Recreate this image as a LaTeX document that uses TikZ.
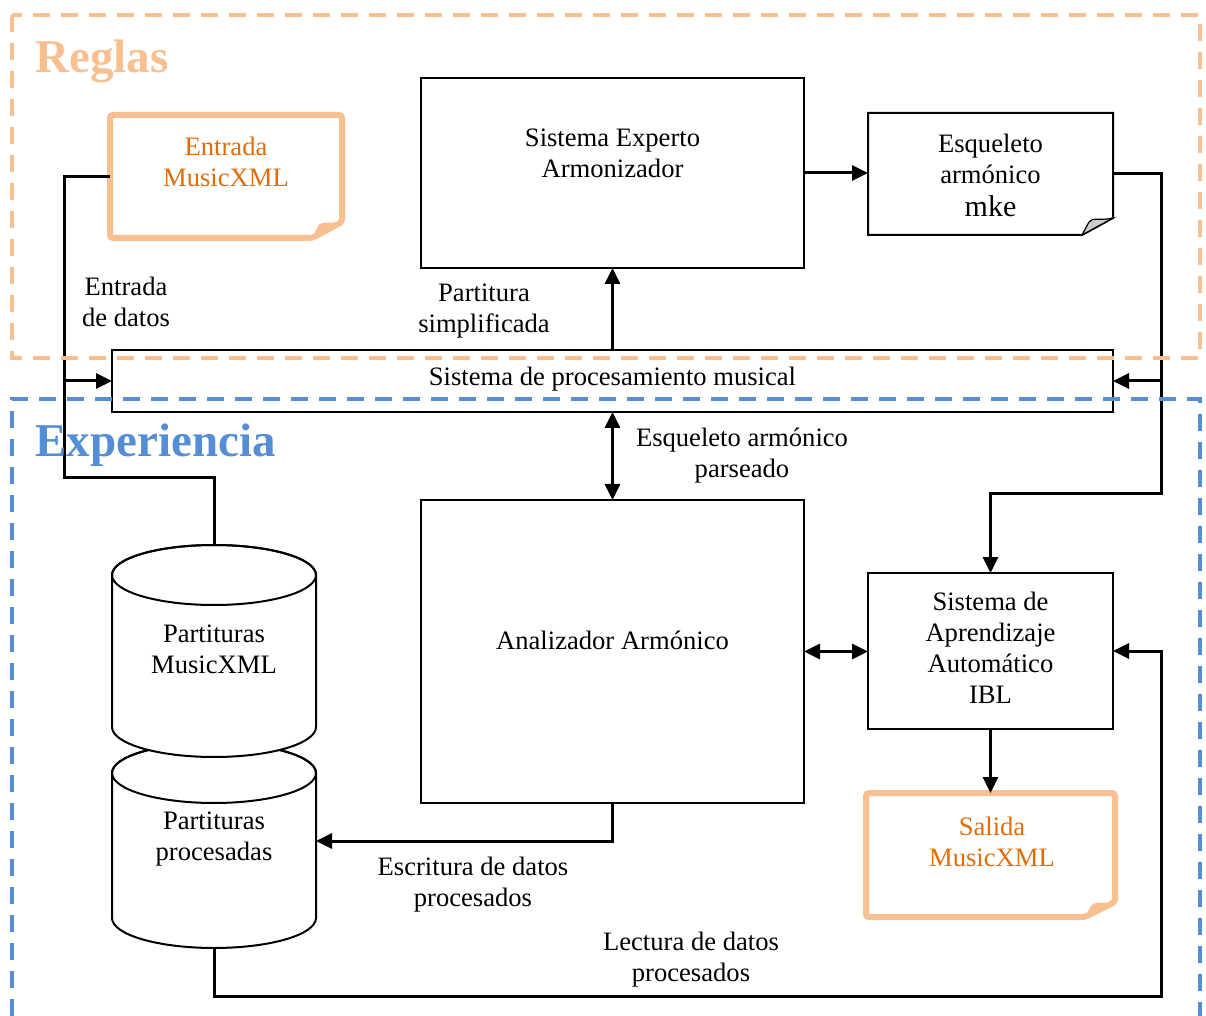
\documentclass[tikz,border=0pt]{standalone}
\usepackage{fontspec}
\setmainfont{Liberation Serif}
\usetikzlibrary{arrows.meta}
\definecolor{reglas}{HTML}{F8C090}
\definecolor{reglastxt}{HTML}{E36C0A}
\definecolor{experiencia}{HTML}{558ED5}
\begin{document}
\begin{tikzpicture}[x=0.5pt,y=-0.5pt,
  txt/.style={font=\fontsize{13.3}{15.5}\selectfont, align=center, inner sep=0pt},
  box/.style={draw, line width=1pt, fill=white, inner sep=0pt, outer sep=0pt},
  area/.style={inner sep=0pt, outer sep=0pt},
  conn/.style={line width=1.5pt},
  arr/.style={conn, -{Triangle[length=8pt,width=7.5pt]}},
  arrtwo/.style={conn, {Triangle[length=8pt,width=7.5pt]}-{Triangle[length=8pt,width=7.5pt]}},
  region/.style={line width=1.6pt, dash pattern=on 8.5pt off 5.5pt},
  header/.style={font=\fontsize{23.5}{28}\selectfont\bfseries, anchor=west, inner sep=0pt}]
\useasboundingbox (0,0) rectangle (1206,1016);

% ---- boxes ----
\node[box, minimum width=191.5pt, minimum height=95pt] (experto) at (612.5,173) {};
\node[txt] (expertot) at (612.5,153) {Sistema Experto\\Armonizador};

\node[box, minimum width=500.5pt, minimum height=31pt] (proc) at (612.5,381) {};
\node[txt] (proct) at (612.5,379) {Sistema de procesamiento musical};

\node[box, minimum width=191.5pt, minimum height=151.5pt] (anal) at (612.5,651.5) {};
\node[txt] (analt) at (612.5,640) {Analizador Armónico};

\node[box, minimum width=122.5pt, minimum height=78pt] (ibl) at (990.5,651) {};
\node[txt] (iblt) at (990.5,647.5) {Sistema de\\Aprendizaje\\Automático\\IBL};

% ---- document shapes ----
\node[area, minimum width=122.5pt, minimum height=61pt] (mke) at (990.5,174) {};
\draw[line width=1pt, fill=white] (868,113) -- (1113,113) -- (1113,218) -- (1082,235) -- (868,235) -- cycle;
\filldraw[line width=0.6pt, fill=gray!40] (1082,235) -- (1113,218) .. controls (1101,221) and (1092,217) .. (1089,222) -- cycle;
\node[txt] (mket) at (990.5,175) {Esqueleto\\armónico\\[1pt]{\fontsize{15}{16}\selectfont mke}};

\node[area, minimum width=116pt, minimum height=61.5pt] (entrada) at (226,176.5) {};
\draw[reglas, line width=3pt, rounded corners=1.5pt, fill=white] (110,115) -- (342,115) -- (342,222) -- (312,238) -- (110,238) -- cycle;
\fill[reglas] (312,238) -- (342,222) .. controls (333,224) and (322,220) .. (318,226) -- cycle;
\node[txt, text=reglastxt] (entradat) at (226,162) {Entrada\\MusicXML};

\node[area, minimum width=124.5pt, minimum height=62pt] (salida) at (990.5,855) {};
\draw[reglas, line width=3pt, rounded corners=1.5pt, fill=white] (866,793) -- (1115,793) -- (1115,902) -- (1085,917) -- (866,917) -- cycle;
\fill[reglas] (1085,917) -- (1115,902) .. controls (1106,904) and (1095,900) .. (1091,906) -- cycle;
\node[txt, text=reglastxt] (salidat) at (992,842) {Salida\\MusicXML};

% ---- databases ----
\filldraw[line width=1pt, fill=white] (112,773) -- (112,918)
  arc[start angle=180, end angle=360, x radius=51pt, y radius=15pt] -- (316,773)
  arc[start angle=0, end angle=180, x radius=51pt, y radius=15pt] -- cycle;
\draw[line width=1pt] (214,773) ellipse[x radius=51pt, y radius=15pt];
\filldraw[line width=1pt, fill=white] (112,575) -- (112,727)
  arc[start angle=180, end angle=360, x radius=51pt, y radius=15pt] -- (316,575)
  arc[start angle=0, end angle=180, x radius=51pt, y radius=15pt] -- cycle;
\draw[line width=1pt] (214,575) ellipse[x radius=51pt, y radius=15pt];
\node[area, minimum width=102pt, minimum height=102pt] (db1) at (214,647) {};
\node[txt] (db1t) at (214,649) {Partituras\\MusicXML};
\node[area, minimum width=102pt, minimum height=107pt] (db2) at (214,841) {};
\node[txt] (db2t) at (214,839) {Partituras\\procesadas};

% ---- connectors ----
\coordinate (jin) at (64,478);
\coordinate (jout) at (1161,493);
\coordinate (jlow) at (1161,996);

\draw[conn] (entrada.west) -| (jin) -| (db1.north);
\draw[arr] (jin |- proc.west) -- (proc.west);
\draw[arr] (proc.north) -- (experto.south);
\draw[arr] (experto.east) -- (experto.east -| mke.west);
\draw[arr] (mke.east) -| (jout) -| (ibl.north);
\draw[arr] (jout |- proc.east) -- (proc.east);
\draw[arrtwo] (proc.south) -- (anal.north);
\draw[arrtwo] (anal.east) -- (anal.east -| ibl.west);
\draw[arr] (ibl.south) -- (salida.north);
\draw[arr] (anal.south) |- (db2.east);
\draw[arr] (db2.south) |- (jlow) |- (ibl.east);

% ---- connector labels ----
\node[txt] (lbpart) at (484,311.5) {Partitura\\simplificada};
\node[txt] (lbent) at (126,302) {Entrada\\de datos};
\node[txt] (lbesq) at (742,455.5) {Esqueleto armónico\\parseado};
\node[txt] (lbesc) at (473,884.5) {Escritura de datos\\procesados};
\node[txt] (lblec) at (691,959.5) {Lectura de datos\\procesados};

% ---- regions ----
\draw[region, reglas] (12,15) rectangle (1200,358);
\draw[region, experiencia] (12,1016) -- (12,399) -- (1200,399) -- (1200,1016);
\node[header, text=reglas] (hreg) at (35,61) {Reglas};
\node[header, text=experiencia] (hexp) at (35,445) {Experiencia};
\end{tikzpicture}
\end{document}
